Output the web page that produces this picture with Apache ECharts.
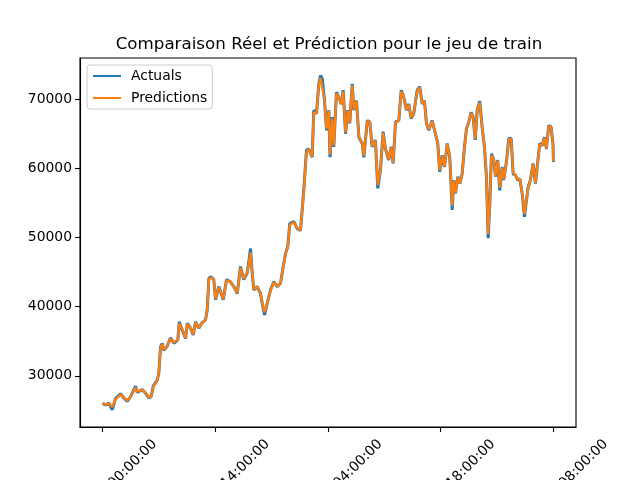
<!DOCTYPE html>
<html>
<head>
<meta charset="utf-8">
<script src="https://cdn.jsdelivr.net/npm/echarts@6/dist/echarts.min.js"></script>
<style>
html,body{margin:0;padding:0;background:#fff;}
#chart{width:640px;height:480px;}
</style>
</head>
<body>
<div id="chart"></div>
<script>
// x positions: days since the first timestamp (2023-09-11 00:00:00)
const days = [
  0, 2.6, 5.4, 8.3, 11.1, 15.4, 18.2, 21.2, 24.0, 28.3,
  29.7, 34.0, 36.8, 39.7, 41.7, 43.4, 46.9, 48.2, 49.7, 51.1,
  52.5, 55.4, 58.2, 61.1, 64.5, 65.7, 68.3, 71.1, 72.6, 75.4,
  77.7, 79.7, 82.5, 85.4, 88.2, 89.7, 91.1, 93.1, 95.3, 96.8,
  99.6, 103.4, 106.2, 109.6, 112.5, 115.4, 118.2, 121.0, 124.0, 126.8,
  128.2, 129.6, 132.5, 135.3, 136.8, 138.8, 141.1, 143.9, 146.7, 149.6,
  152.5, 154.8, 156.8, 158.7, 160.4, 163.9, 166.8, 169.6, 171.1, 172.4,
  174.7, 176.7, 179.6, 181.0, 183.3, 185.3, 186.7, 188.2, 190.2, 191.9,
  193.9, 194.9, 196.8, 198.1, 200.4, 202.4, 204.5, 206.2, 208.2, 210.1,
  211.8, 213.9, 215.3, 217.6, 219.6, 222.5, 223.9, 226.8, 229.0, 231.0,
  233.8, 235.8, 238.1, 240.4, 242.4, 245.2, 247.3, 249.0, 251.0, 253.8,
  255.9, 258.1, 260.4, 262.4, 264.4, 266.6, 269.6, 271.8, 273.9, 275.8,
  277.5, 279.5, 282.4, 285.2, 287.2, 288.9, 291.0, 293.0, 295.3, 297.5,
  299.6, 300.9, 302.4, 304.4, 306.1, 308.1, 310.1, 311.8, 313.8, 315.8,
  317.5, 319.3, 321.0, 323.2, 325.2, 327.2, 328.9, 330.4, 331.8, 333.2,
  335.2, 336.7, 338.6, 340.3, 342.4, 343.7, 346.1, 348.0, 350.1, 351.8,
  353.8, 355.7, 357.5, 359.5, 361.5, 363.2, 364.7, 366.6, 368.9, 370.9,
  372.4, 374.6, 376.7, 378.6, 380.3, 382.3, 384.3, 386.0, 386.3
];
const actuals = [
  26000, 25800, 26050, 25100, 26700, 27400, 26800, 26300, 27000, 28500,
  27600, 28000, 27500, 26800, 27000, 28500, 29400, 30400, 34200, 34700,
  33700, 34300, 35500, 34700, 35200, 37800, 36600, 35400, 37600, 36900,
  35900, 37800, 36900, 37700, 38100, 39500, 44100, 44300, 43900, 41000,
  42900, 41000, 43900, 43600, 42900, 41900, 45800, 43900, 44900, 48400,
  44900, 42400, 42900, 41900, 40500, 38800, 40500, 42400, 43600, 42900,
  43400, 45800, 47700, 48700, 52000, 52300, 51300, 51000, 51100, 56800,
  62600, 62800, 61600, 68400, 67900, 72200, 73400, 73000, 69800, 65500,
  68400, 61600, 67400, 63100, 71000, 70300, 69300, 71300, 65000, 68400,
  66500, 72200, 68400, 69800, 64500, 63600, 61600, 66900, 66700, 63100,
  64100, 57100, 59700, 65300, 62800, 61200, 63100, 60700, 66700, 66900,
  71300, 70300, 68400, 69300, 67200, 67900, 71300, 71800, 69300, 69800,
  66500, 65500, 66900, 65000, 63600, 59500, 61900, 60200, 63600, 61600,
  54000, 58300, 56400, 58800, 57800, 59200, 63100, 65700, 66700, 68100,
  67400, 64100, 68400, 69700, 66000, 63100, 58800, 49900, 54900, 62100,
  61200, 58800, 61200, 56800, 60200, 58300, 61000, 64300, 64300, 59200,
  59000, 58300, 58500, 56400, 53000, 55400, 57300, 58300, 60700, 57800,
  60200, 63600, 63300, 64500, 62800, 66200, 66000, 63300, 60900
];
const predictions = [
  26000, 25850, 26000, 25500, 26600, 27300, 26850, 26400, 26950, 28300,
  27700, 27950, 27550, 26900, 27000, 28400, 29300, 30500, 34000, 34600,
  33800, 34300, 35400, 34800, 35200, 37600, 36700, 35500, 37500, 36900,
  36000, 37700, 36950, 37650, 38100, 39600, 43900, 44200, 43900, 41200,
  42800, 41100, 43800, 43600, 42900, 42000, 45600, 44000, 44900, 47800,
  45000, 42500, 42900, 41950, 40600, 39200, 40500, 42300, 43500, 42950,
  43400, 45700, 47600, 48600, 51800, 52200, 51400, 51050, 51100, 56500,
  62300, 62700, 61700, 68100, 67900, 72000, 73100, 72900, 69900, 65700,
  68300, 62000, 67200, 63300, 70800, 70300, 69300, 71100, 65200, 68300,
  66600, 72000, 68500, 69700, 64600, 63600, 61800, 66800, 66700, 63200,
  64000, 57600, 59800, 65100, 62800, 61300, 63000, 60800, 66600, 66900,
  71100, 70300, 68500, 69200, 67300, 67900, 71200, 71700, 69400, 69700,
  66600, 65600, 66800, 65100, 63600, 59700, 61800, 60300, 63500, 61700,
  54600, 58200, 56500, 58700, 57800, 59200, 63000, 65600, 66700, 68000,
  67400, 64300, 68300, 69500, 66100, 63200, 59000, 50500, 55000, 61900,
  61200, 58900, 61100, 57200, 60100, 58400, 60900, 64200, 64200, 59400,
  59000, 58400, 58500, 56500, 53400, 55400, 57200, 58300, 60600, 57900,
  60200, 63500, 63300, 64400, 62900, 66100, 66000, 63400, 61000
];
const tickDays = [0, 96.583, 193.167, 289.75, 386.333];
const tickLabels = [
  '2023-09-11 00:00:00',
  '2023-12-16 14:00:00',
  '2024-03-22 04:00:00',
  '2024-06-26 18:00:00',
  '2024-10-01 08:00:00'
];
const yTicks = [30000, 40000, 50000, 60000, 70000];
const seriesNames = ['Actuals', 'Predictions'];
const titleText = 'Comparaison Réel et Prédiction pour le jeu de train';

const FONT = 'DejaVu Sans';
const chart = echarts.init(document.getElementById('chart'), null, {renderer: 'canvas'});

const span = tickDays[tickDays.length - 1] - tickDays[0];
const option = {
  animation: false,
  backgroundColor: '#ffffff',
  textStyle: {fontFamily: FONT},
  title: {
    text: titleText,
    left: 324,
    textAlign: 'center',
    top: 31,
    textStyle: {fontFamily: FONT, fontSize: 16.7, fontWeight: 'normal', color: '#000'}
  },
  legend: {
    data: seriesNames.map(n => ({name: n, icon: 'rect'})),
    orient: 'vertical',
    left: 87,
    top: 65,
    padding: [4, 5, 4, 6],
    itemGap: 8,
    itemWidth: 28,
    itemHeight: 2,
    borderColor: '#cccccc',
    borderWidth: 1,
    borderRadius: 3,
    backgroundColor: 'rgba(255,255,255,0.8)',
    textStyle: {fontFamily: FONT, fontSize: 13.9, color: '#000', padding: [0, 0, 0, 5], lineHeight: 14}
  },
  grid: {
    left: 80, right: 64, top: 58, bottom: 53,
    outerBoundsMode: 'none',
    containLabel: false,
    show: true, borderColor: '#000', borderWidth: 1.1, backgroundColor: 'transparent'
  },
  xAxis: {
    type: 'value',
    min: tickDays[0] - 0.05 * span,
    max: tickDays[tickDays.length - 1] + 0.05 * span,
    axisLine: {show: true, onZero: false, lineStyle: {color: '#000', width: 1.1}},
    axisTick: {show: true, inside: false, length: 5, lineStyle: {color: '#000', width: 1.1}, customValues: tickDays},
    splitLine: {show: false},
    axisLabel: {
      customValues: tickDays,
      rotate: 45,
      align: 'center',
      verticalAlign: 'middle',
      margin: 67,
      fontFamily: FONT,
      fontSize: 13.9,
      color: '#000',
      formatter: function (v) {
        let best = 0;
        for (let i = 1; i < tickDays.length; i++) {
          if (Math.abs(tickDays[i] - v) < Math.abs(tickDays[best] - v)) best = i;
        }
        return tickLabels[best];
      }
    }
  },
  yAxis: {
    type: 'value',
    min: 22600,
    max: 75950,
    axisLine: {show: true, onZero: false, lineStyle: {color: '#000', width: 1.1}},
    axisTick: {show: true, inside: false, length: 5, lineStyle: {color: '#000', width: 1.1}, customValues: yTicks},
    splitLine: {show: false},
    axisLabel: {
      customValues: yTicks,
      margin: 8,
      fontFamily: FONT,
      fontSize: 13.9,
      color: '#000',
      formatter: v => String(v)
    }
  },
  series: [
    {
      name: seriesNames[0],
      type: 'line',
      data: days.map((d, i) => [d, actuals[i]]),
      symbol: 'none',
      showSymbol: false,
      color: '#1f77b4',
      lineStyle: {color: '#1f77b4', width: 3},
      z: 2
    },
    {
      name: seriesNames[1],
      type: 'line',
      data: days.map((d, i) => [d, predictions[i]]),
      symbol: 'none',
      showSymbol: false,
      color: '#ff7f0e',
      lineStyle: {color: '#ff7f0e', width: 2.4},
      z: 3
    }
  ]
};
chart.setOption(option);
</script>
</body>
</html>
